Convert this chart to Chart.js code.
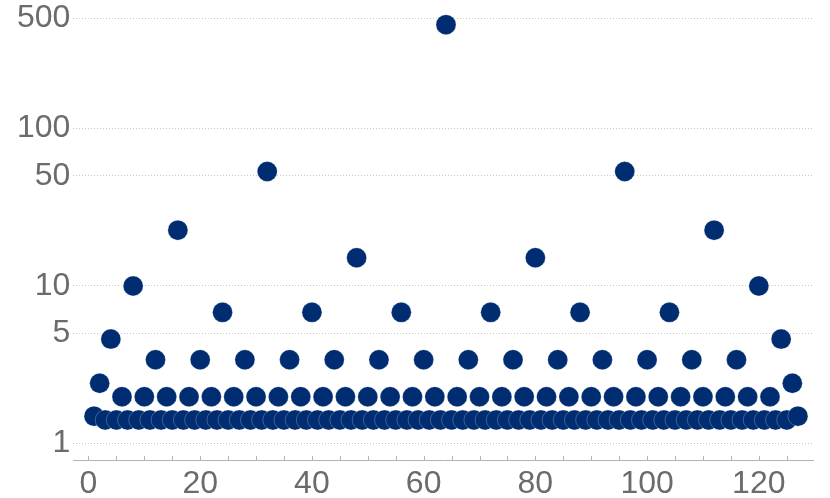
<!DOCTYPE html>
<html>
<head>
<meta charset="utf-8">
<script src="https://cdn.jsdelivr.net/npm/chart.js@4/dist/chart.umd.min.js"></script>
<style>
  html, body { margin: 0; padding: 0; background: #fff; }
</style>
</head>
<body>
<canvas id="myChart" width="830" height="498"></canvas>
<script>
// x positions 1..127
const xValues = [
  1, 2, 3, 4, 5, 6, 7, 8, 9, 10, 11, 12, 13, 14, 15, 16,
  17, 18, 19, 20, 21, 22, 23, 24, 25, 26, 27, 28, 29, 30, 31, 32,
  33, 34, 35, 36, 37, 38, 39, 40, 41, 42, 43, 44, 45, 46, 47, 48,
  49, 50, 51, 52, 53, 54, 55, 56, 57, 58, 59, 60, 61, 62, 63, 64,
  65, 66, 67, 68, 69, 70, 71, 72, 73, 74, 75, 76, 77, 78, 79, 80,
  81, 82, 83, 84, 85, 86, 87, 88, 89, 90, 91, 92, 93, 94, 95, 96,
  97, 98, 99, 100, 101, 102, 103, 104, 105, 106, 107, 108, 109, 110, 111, 112,
  113, 114, 115, 116, 117, 118, 119, 120, 121, 122, 123, 124, 125, 126, 127
];

// values (log scale)
const yValues = [
  1.49, 2.41, 1.41, 4.6, 1.41, 1.98, 1.41, 10.0, 1.41, 1.98, 1.41, 3.4, 1.41, 1.98, 1.41, 22.6,
  1.41, 1.98, 1.41, 3.4, 1.41, 1.98, 1.41, 6.8, 1.41, 1.98, 1.41, 3.4, 1.41, 1.98, 1.41, 53.3,
  1.41, 1.98, 1.41, 3.4, 1.41, 1.98, 1.41, 6.8, 1.41, 1.98, 1.41, 3.4, 1.41, 1.98, 1.41, 15.1,
  1.41, 1.98, 1.41, 3.4, 1.41, 1.98, 1.41, 6.8, 1.41, 1.98, 1.41, 3.4, 1.41, 1.98, 1.41, 456,
  1.41, 1.98, 1.41, 3.4, 1.41, 1.98, 1.41, 6.8, 1.41, 1.98, 1.41, 3.4, 1.41, 1.98, 1.41, 15.1,
  1.41, 1.98, 1.41, 3.4, 1.41, 1.98, 1.41, 6.8, 1.41, 1.98, 1.41, 3.4, 1.41, 1.98, 1.41, 53.3,
  1.41, 1.98, 1.41, 3.4, 1.41, 1.98, 1.41, 6.8, 1.41, 1.98, 1.41, 3.4, 1.41, 1.98, 1.41, 22.6,
  1.41, 1.98, 1.41, 3.4, 1.41, 1.98, 1.41, 10.0, 1.41, 1.98, 1.41, 4.6, 1.41, 2.41, 1.49
];

const yTickValues = [1, 5, 10, 50, 100, 500];
const xTickValues = [0, 5, 10, 15, 20, 25, 30, 35, 40, 45, 50, 55, 60, 65,
  70, 75, 80, 85, 90, 95, 100, 105, 110, 115, 120, 125];
const xTickLabels = [0, 20, 40, 60, 80, 100, 120];

const labelFont = { family: "'Liberation Sans', Arial, sans-serif", size: 32 };
const labelColor = "#6b6b6b";

// small tick marks pointing up into the plot
const innerTicks = {
  id: "innerTicks",
  afterDraw(chart) {
    const sx = chart.scales.x;
    const ctx = chart.ctx;
    const bottom = chart.chartArea.bottom;
    ctx.save();
    ctx.strokeStyle = "#b4b4b4";
    ctx.lineWidth = 1;
    sx.ticks.forEach((t) => {
      const px = Math.round(sx.getPixelForValue(t.value)) + 0.5;
      ctx.beginPath();
      ctx.moveTo(px, bottom);
      ctx.lineTo(px, bottom - 4);
      ctx.stroke();
    });
    ctx.restore();
  },
};

const points = xValues.map((x, i) => ({ x: x, y: yValues[i] }));

new Chart(document.getElementById("myChart"), {
  type: "scatter",
  data: {
    datasets: [{
      data: points,
      backgroundColor: "#002d72",
      borderColor: "rgba(255,255,255,0.3)",
      borderWidth: 0.8,
      pointRadius: 10,
      pointHoverRadius: 10,
    }],
  },
  options: {
    responsive: false,
    animation: false,
    devicePixelRatio: 1,
    layout: { autoPadding: false, padding: { left: 14, right: 17, top: 0, bottom: -10.4 } },
    plugins: { legend: { display: false }, tooltip: { enabled: false } },
    scales: {
      x: {
        type: "linear",
        min: -2.7,
        max: 129.7,
        afterBuildTicks: (scale) => {
          scale.ticks = xTickValues.map((v) => ({ value: v }));
        },
        ticks: {
          autoSkip: false,
          maxRotation: 0,
          padding: 5,
          font: labelFont,
          color: labelColor,
          callback: (v) => (xTickLabels.includes(v) ? String(v) : ""),
        },
        grid: { drawOnChartArea: false, drawTicks: false },
        border: { display: true, color: "#b4b4b4", width: 1 },
      },
      y: {
        type: "logarithmic",
        min: 0.785,
        max: 654,
        afterBuildTicks: (scale) => {
          scale.ticks = yTickValues.map((v) => ({ value: v }));
        },
        afterFit: (scale) => {
          scale.paddingTop = 0;
          scale.paddingBottom = 0;
        },
        ticks: {
          padding: 3,
          font: labelFont,
          color: labelColor,
          callback: (v) => String(v),
        },
        grid: { color: "#c8c8c8", lineWidth: 1, drawTicks: false },
        border: { display: false, dash: [1, 2] },
      },
    },
  },
  plugins: [innerTicks],
});
</script>
</body>
</html>
